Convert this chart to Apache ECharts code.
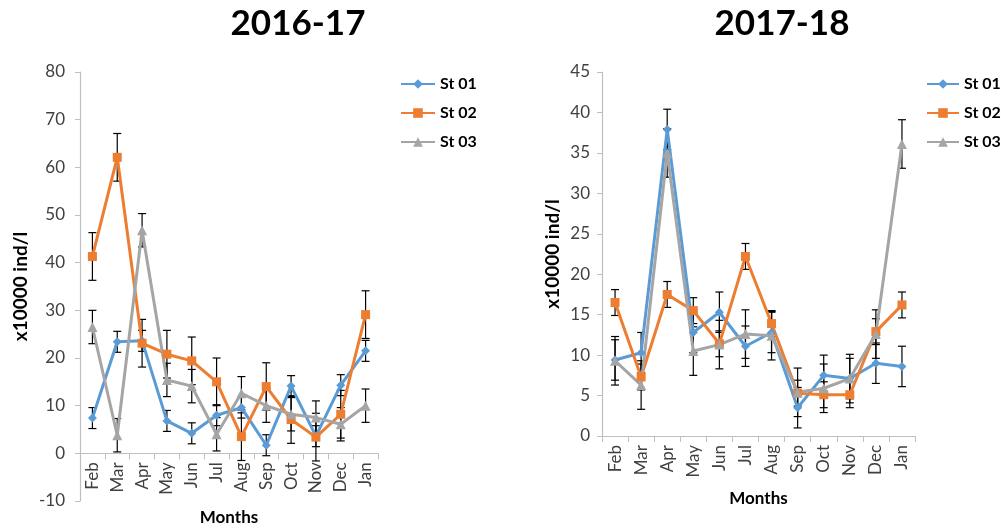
<!DOCTYPE html>
<html>
<head>
<meta charset="utf-8">
<script src="https://cdn.jsdelivr.net/npm/echarts@6/dist/echarts.min.js"></script>
<style>
  html, body { margin: 0; padding: 0; background: #fff; }
  #chart { width: 1005px; height: 529px; }
</style>
</head>
<body>
<div id="chart"></div>
<script>
// Monthly abundance (x10000 ind/l) at three stations, two sampling years
const months = ['Feb', 'Mar', 'Apr', 'May', 'Jun', 'Jul', 'Aug', 'Sep', 'Oct', 'Nov', 'Dec', 'Jan'];
const stationNames = ['St 01', 'St 02', 'St 03'];

// 2016-17
const st01_2016 = [7.4, 23.4, 23.6, 6.8, 4.2, 8.0, 9.6, 1.7, 14.1, 3.6, 14.3, 21.5];
const st02_2016 = [41.3, 62.1, 23.1, 20.8, 19.4, 15.0, 3.5, 14.0, 7.1, 3.4, 8.2, 29.1];
const st03_2016 = [26.5, 3.8, 46.8, 15.4, 14.1, 4.0, 12.6, 10.0, 8.2, 7.5, 6.1, 10.0];
const err_2016 = [2.2, 5.0, 3.5];

// 2017-18
const st01_2017 = [9.4, 10.3, 37.9, 12.8, 15.3, 11.1, 12.8, 3.5, 7.5, 7.1, 9.0, 8.6];
const st02_2017 = [16.5, 7.3, 17.5, 15.5, 11.4, 22.2, 13.9, 5.3, 5.1, 5.1, 12.9, 16.2];
const st03_2017 = [9.3, 6.3, 35.0, 10.5, 11.3, 12.6, 12.4, 5.4, 5.9, 7.1, 12.6, 36.1];
const err_2017 = [2.5, 1.6, 3.0];

const colors = ['#5B9BD5', '#ED7D31', '#A5A5A5'];
const symbols = ['diamond', 'rect', 'triangle'];
const symbolSizes = [9, 9, 10];
const FONT = 'Lato, "Open Sans", sans-serif';

// plot rectangles
const grids = [
  { left: 80, top: 72, width: 298, height: 429, min: -10, max: 80, interval: 10 },
  { left: 602, top: 72, width: 313, height: 364, min: 0, max: 45, interval: 5 }
];

function lineSeries(idx, values, axisIdx) {
  return {
    name: stationNames[idx],
    type: 'line',
    xAxisIndex: axisIdx,
    yAxisIndex: axisIdx,
    data: values,
    symbol: symbols[idx],
    symbolSize: symbolSizes[idx],
    showAllSymbol: true,
    lineStyle: { color: colors[idx], width: 3 },
    itemStyle: { color: colors[idx] },
    z: 3,
    animation: false
  };
}

function errorSeries(idx, values, err, axisIdx) {
  const data = values.map((v, i) => [i, v - err, v + err]);
  return {
    name: stationNames[idx] + ' error',
    type: 'custom',
    xAxisIndex: axisIdx,
    yAxisIndex: axisIdx,
    data: data,
    encode: { x: 0, y: [1, 2] },
    z: 2,
    silent: true,
    animation: false,
    renderItem: function (params, api) {
      const x = api.value(0);
      const top = api.coord([x, api.value(2)]);
      const bot = api.coord([x, api.value(1)]);
      const hw = 4;
      const style = { stroke: '#000', lineWidth: 1.2 };
      return {
        type: 'group',
        children: [
          { type: 'line', shape: { x1: top[0], y1: top[1], x2: bot[0], y2: bot[1] }, style: style },
          { type: 'line', shape: { x1: top[0] - hw, y1: top[1], x2: top[0] + hw, y2: top[1] }, style: style },
          { type: 'line', shape: { x1: bot[0] - hw, y1: bot[1], x2: bot[0] + hw, y2: bot[1] }, style: style }
        ]
      };
    }
  };
}

const axisLineStyle = { show: true, lineStyle: { color: '#BFBFBF', width: 1.2 } };

// The category axis sits on the zero line, labels and all
function xAxis(gridIdx, nameGap) {
  const g = grids[gridIdx];
  const zeroOffset = -(0 - g.min) / (g.max - g.min) * g.height;
  return {
    type: 'category',
    gridIndex: gridIdx,
    data: months,
    boundaryGap: true,
    position: 'bottom',
    offset: zeroOffset,
    name: 'Months',
    nameLocation: 'middle',
    nameGap: nameGap,
    nameTextStyle: { fontFamily: FONT, fontWeight: 'bold', fontSize: 17, color: '#000' },
    axisLine: Object.assign({ onZero: false }, axisLineStyle),
    axisTick: { show: true, interval: 0, length: 6, lineStyle: { color: '#BFBFBF' } },
    axisLabel: { interval: 0, rotate: 90, margin: 9, fontFamily: FONT, fontSize: 17, color: '#404040' },
    splitLine: { show: false }
  };
}

function yAxis(gridIdx, nameGap, labelMargin) {
  const g = grids[gridIdx];
  return {
    type: 'value',
    gridIndex: gridIdx,
    min: g.min,
    max: g.max,
    interval: g.interval,
    name: 'x10000 ind/l',
    nameLocation: 'middle',
    nameGap: nameGap,
    nameTextStyle: { fontFamily: FONT, fontWeight: 'bold', fontSize: 19, color: '#000' },
    axisLine: axisLineStyle,
    axisTick: { show: true, length: 5, lineStyle: { color: '#BFBFBF' } },
    axisLabel: { margin: labelMargin, fontFamily: FONT, fontSize: 17, color: '#404040' },
    splitLine: { show: false }
  };
}

function legend(left, itemWidth) {
  return {
    data: stationNames,
    orient: 'vertical',
    left: left,
    top: 76,
    padding: 0,
    itemWidth: itemWidth,
    itemHeight: 12,
    itemGap: 13,
    textStyle: { fontFamily: FONT, fontWeight: 'bold', fontSize: 16, lineHeight: 16, color: '#000' },
    selectedMode: false
  };
}

const chart = echarts.init(document.getElementById('chart'), null, { renderer: 'canvas' });

chart.setOption({
  backgroundColor: '#fff',
  animation: false,
  graphic: [
    { type: 'text', x: 298, y: 41, style: { text: '2016-17', fontFamily: FONT, fontWeight: 'bold', fontSize: 35, fill: '#000', textAlign: 'center', textVerticalAlign: 'bottom' } },
    { type: 'text', x: 782, y: 41, style: { text: '2017-18', fontFamily: FONT, fontWeight: 'bold', fontSize: 35, fill: '#000', textAlign: 'center', textVerticalAlign: 'bottom' } }
  ],
  legend: [legend(400, 34), legend(926, 32)],
  grid: grids.map(g => ({
    left: g.left, top: g.top, width: g.width, height: g.height,
    containLabel: false, outerBoundsMode: 'none'
  })),
  xAxis: [xAxis(0, 56), xAxis(1, 54)],
  yAxis: [yAxis(0, 50, 15), yAxis(1, 40, 12)],
  series: [
    errorSeries(0, st01_2016, err_2016[0], 0),
    errorSeries(1, st02_2016, err_2016[1], 0),
    errorSeries(2, st03_2016, err_2016[2], 0),
    lineSeries(0, st01_2016, 0),
    lineSeries(1, st02_2016, 0),
    lineSeries(2, st03_2016, 0),
    errorSeries(0, st01_2017, err_2017[0], 1),
    errorSeries(1, st02_2017, err_2017[1], 1),
    errorSeries(2, st03_2017, err_2017[2], 1),
    lineSeries(0, st01_2017, 1),
    lineSeries(1, st02_2017, 1),
    lineSeries(2, st03_2017, 1)
  ]
});
</script>
</body>
</html>
